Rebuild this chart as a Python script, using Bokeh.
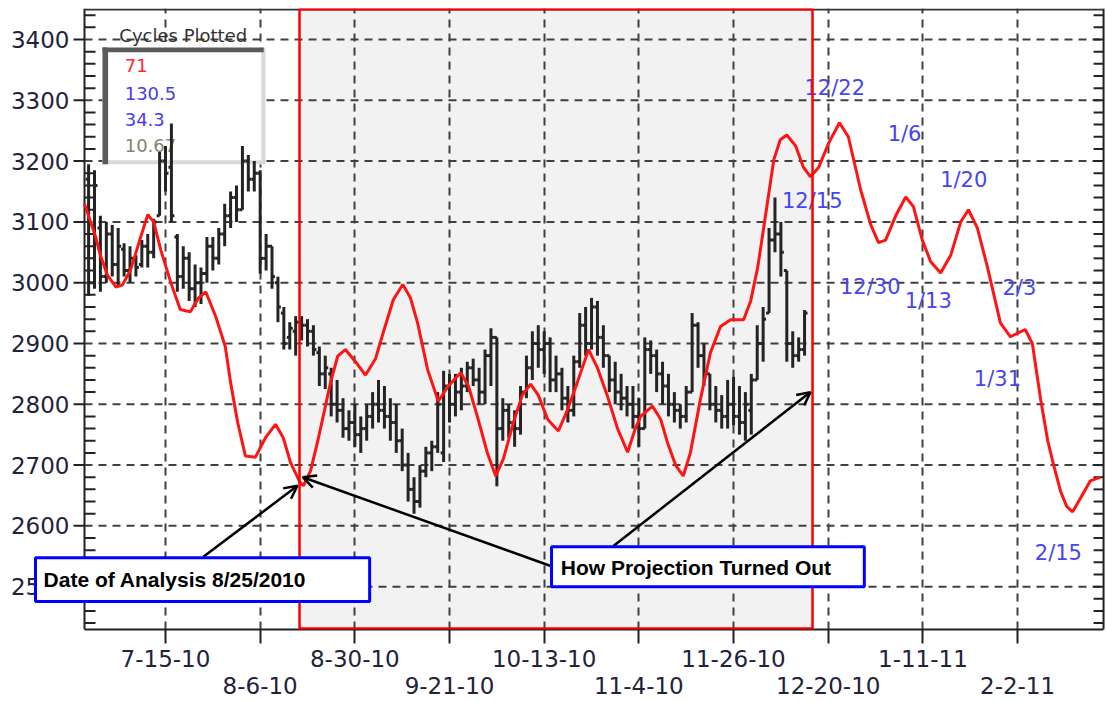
from bokeh.plotting import figure
from bokeh.models import Range1d, FixedTicker, BoxAnnotation, Label, Arrow, OpenHead
from bokeh.core.properties import value
from bokeh.embed import file_html
from bokeh.resources import INLINE

# ---------------- data ----------------
# x = trading-day number (7-15-10 is day 14)
tick_days = [14, 30, 46, 62, 78, 94, 110, 126, 142, 158]
tick_labels = ["7-15-10", "8-6-10", "8-30-10", "9-21-10", "10-13-10",
               "11-4-10", "11-26-10", "12-20-10", "1-11-11", "2-2-11"]
y_ticks = [2500, 2600, 2700, 2800, 2900, 3000, 3100, 3200, 3300, 3400]
y_tick_labels = ["2500", "2600", "2700", "2800", "2900", "3000", "3100", "3200", "3300", "3400"]
y_minor_ticks = [v for v in range(2440, 3451, 20) if v % 100 != 0]
y_all_ticks = list(range(2440, 3451, 20))

bar_day = list(range(1, 123))
bar_high = [3195, 3185, 3110, 3100, 3095, 3090, 3065, 3060, 3045, 3070,
            3080, 3105, 3215, 3225, 3262, 3080, 3060, 3050, 3030, 3025,
            3075, 3075, 3090, 3130, 3150, 3160, 3225, 3210, 3200, 3185,
            3080, 3060, 3010, 2960, 2935, 2945, 2945, 2940, 2930, 2895,
            2880, 2860, 2840, 2810, 2790, 2800, 2780, 2800, 2820, 2840,
            2830, 2810, 2800, 2760, 2720, 2680, 2700, 2730, 2740, 2820,
            2855, 2850, 2850, 2860, 2870, 2875, 2860, 2890, 2925, 2910,
            2810, 2800, 2790, 2830, 2880, 2920, 2930, 2920, 2910, 2880,
            2860, 2830, 2880, 2950, 2960, 2975, 2970, 2930, 2880, 2870,
            2850, 2830, 2830, 2810, 2910, 2905, 2890, 2870, 2850, 2820,
            2800, 2830, 2950, 2935, 2900, 2850, 2830, 2815, 2840, 2845,
            2830, 2820, 2850, 2930, 2960, 3090, 3140, 3100, 3020, 2920,
            2910, 2955]
bar_low = [2978, 2990, 2985, 3000, 3010, 2995, 3010, 3000, 3010, 3025,
           3025, 3040, 3110, 3150, 3100, 2985, 2990, 2970, 2960, 2965,
           3000, 3020, 3030, 3060, 3090, 3100, 3120, 3150, 3150, 3015,
           3020, 2990, 2935, 2890, 2890, 2880, 2905, 2895, 2880, 2830,
           2825, 2780, 2770, 2745, 2740, 2730, 2720, 2740, 2760, 2770,
           2760, 2740, 2720, 2690, 2640, 2620, 2630, 2680, 2690, 2720,
           2705, 2770, 2780, 2790, 2820, 2830, 2800, 2800, 2830, 2665,
           2740, 2745, 2730, 2750, 2810, 2840, 2860, 2850, 2820, 2820,
           2790, 2770, 2780, 2860, 2880, 2890, 2880, 2860, 2820, 2800,
           2790, 2780, 2760, 2730, 2760, 2850, 2820, 2800, 2780, 2770,
           2760, 2770, 2820, 2860, 2830, 2790, 2770, 2760, 2760, 2765,
           2750, 2740, 2750, 2840, 2870, 2950, 3050, 3010, 2870, 2860,
           2870, 2880]
bar_open = [3170, 3000, 3090, 3010, 3080, 3030, 3055, 3020, 3040, 3030,
            3060, 3050, 3110, 3200, 3190, 3075, 3010, 3040, 2990, 3000,
            3015, 3060, 3040, 3080, 3110, 3140, 3120, 3200, 3170, 3180,
            3040, 3060, 3000, 2950, 2910, 2920, 2935, 2930, 2920, 2885,
            2850, 2850, 2800, 2790, 2760, 2770, 2750, 2760, 2780, 2800,
            2790, 2780, 2770, 2740, 2700, 2660, 2640, 2690, 2720, 2730,
            2720, 2830, 2800, 2820, 2830, 2860, 2840, 2820, 2880, 2910,
            2760, 2790, 2770, 2760, 2820, 2860, 2900, 2890, 2900, 2840,
            2850, 2810, 2790, 2870, 2930, 2900, 2960, 2910, 2880, 2840,
            2820, 2810, 2800, 2780, 2760, 2890, 2880, 2850, 2830, 2800,
            2790, 2780, 2820, 2930, 2880, 2850, 2800, 2790, 2780, 2800,
            2780, 2770, 2790, 2840, 2900, 2950, 3070, 3080, 3020, 2900,
            2880, 2890]
bar_close = [3000, 3160, 3010, 3080, 3030, 3060, 3020, 3040, 3025, 3060,
             3050, 3100, 3200, 3180, 3110, 3010, 3040, 2990, 3000, 3015,
             3060, 3040, 3080, 3110, 3140, 3120, 3200, 3170, 3180, 3040,
             3060, 3010, 2960, 2900, 2925, 2935, 2930, 2920, 2890, 2850,
             2860, 2800, 2790, 2760, 2770, 2750, 2760, 2780, 2800, 2790,
             2780, 2770, 2740, 2700, 2660, 2640, 2690, 2720, 2730, 2800,
             2830, 2800, 2820, 2830, 2860, 2840, 2820, 2880, 2910, 2760,
             2790, 2770, 2760, 2820, 2860, 2900, 2890, 2900, 2840, 2850,
             2810, 2790, 2870, 2930, 2900, 2960, 2910, 2880, 2840, 2820,
             2810, 2800, 2780, 2760, 2890, 2880, 2850, 2830, 2800, 2790,
             2780, 2820, 2930, 2880, 2850, 2800, 2790, 2780, 2800, 2780,
             2770, 2800, 2840, 2900, 2940, 3070, 3080, 3050, 2900, 2880,
             2890, 2950]

proj_day = [0.3, 2.2, 3.0, 4.2, 5.6, 6.7, 8.1, 9.8, 11.0, 12.0,
            13.2, 14.9, 16.5, 18.2, 19.6, 20.8, 22.5, 24.1, 25.0, 26.2,
            27.5, 29.2, 30.9, 32.6, 33.9, 35.1, 36.7, 37.3, 38.5, 39.7,
            41.9, 43.1, 44.4, 46.1, 47.8, 49.5, 50.8, 52.5, 54.1, 55.4,
            56.6, 58.3, 60.1, 61.8, 63.9, 65.2, 66.7, 68.4, 69.8, 71.1,
            72.8, 74.3, 75.7, 77.0, 78.6, 80.4, 81.9, 83.6, 85.5, 87.0,
            88.7, 90.4, 92.1, 93.4, 94.3, 96.3, 97.7, 98.8, 100.2, 101.5,
            102.7, 104.4, 106.1, 107.8, 109.5, 111.7, 112.9, 114.1, 115.4, 116.8,
            117.9, 119.0, 120.5, 121.8, 123.0, 124.4, 126.1, 127.9, 129.4, 131.5,
            133.2, 134.5, 135.7, 137.4, 139.1, 140.4, 141.9, 143.3, 145.0, 146.7,
            148.4, 149.7, 151.2, 152.9, 155.1, 156.8, 158.2, 159.3, 160.5, 161.9,
            163.1, 164.1, 165.3, 166.3, 167.3, 168.6, 170.3, 172.0]
proj_value = [3130, 3075, 3045, 3012, 2993, 2996, 3021, 3075, 3112, 3100,
              3054, 3000, 2956, 2952, 2975, 2985, 2944, 2895, 2836, 2770,
              2715, 2713, 2745, 2767, 2745, 2705, 2672, 2666, 2690, 2738,
              2836, 2879, 2890, 2870, 2848, 2875, 2918, 2972, 2997, 2975,
              2934, 2857, 2805, 2830, 2852, 2830, 2780, 2720, 2682, 2710,
              2770, 2815, 2833, 2815, 2775, 2756, 2790, 2836, 2890, 2860,
              2813, 2760, 2721, 2760, 2780, 2797, 2775, 2738, 2700, 2682,
              2720, 2808, 2885, 2928, 2939, 2939, 2970, 3026, 3110, 3202,
              3235, 3243, 3225, 3190, 3174, 3190, 3230, 3263, 3240, 3152,
              3095, 3066, 3070, 3110, 3141, 3125, 3070, 3035, 3016, 3045,
              3100, 3120, 3090, 3026, 2934, 2911, 2918, 2923, 2900, 2808,
              2740, 2700, 2656, 2632, 2623, 2645, 2674, 2680]

cycle_labels = ["71", "130.5", "34.3", "10.67"]
cycle_colors = ["#ff2a2a", "#4a3ce6", "#4a3ce6", "#85856a"]
cycle_label_y = [3357, 3312, 3269, 3225]

date_labels = ["12/22", "12/15", "1/6", "12/30", "1/13", "1/20", "2/3", "1/31", "2/15"]
date_label_day = [127.1, 123.3, 138.9, 133.1, 142.9, 148.9, 158.3, 154.6, 164.9]
date_label_value = [3320, 3134, 3244, 2993, 2970, 3169, 2992, 2841, 2556]

analysis_start, analysis_end = 36.65, 123.35

# ---------------- geometry of the plot area ----------------
X0, X1 = -13.886, 173.03          # visible day range (whole canvas width)
Y0, Y1 = 2429.5, 3451             # visible value range
AX_L, AX_R = 0.31, 172.53         # left / right axis positions (days)
TICK = 1.86                       # 11 px in days
RTICK = 1.69                      # 10 px in days

p = figure(width=1106, height=702, output_backend="svg", toolbar_location=None,
           x_range=Range1d(X0, X1), y_range=Range1d(Y0, Y1),
           y_axis_location=None,
           min_border_left=0, min_border_right=0, min_border_top=8, min_border_bottom=71)
p.background_fill_color = "white"
p.border_fill_color = "white"
p.outline_line_color = None

label_color = "#22223a"
axis_color = "#222222"

# x axis (real, below)
xa = p.xaxis[0]
xa.ticker = FixedTicker(ticks=tick_days)
xa.bounds = (AX_L, AX_R)
xa.major_label_overrides = {d: (lab if k % 2 == 0 else "\n" + lab)
                            for k, (d, lab) in enumerate(zip(tick_days, tick_labels))}
xa.major_label_text_font = "DejaVu Sans"
xa.major_label_text_font_size = "23px"
xa.major_label_text_color = label_color
xa.major_label_text_line_height = 1.06
xa.major_label_standoff = 2
xa.axis_line_color = axis_color
xa.axis_line_width = 2
xa.major_tick_line_color = axis_color
xa.major_tick_line_width = 2
xa.major_tick_out = 14
xa.major_tick_in = 0
xa.minor_tick_line_color = None

for g in p.xgrid:
    g.grid_line_color = "#404040"
    g.grid_line_width = 2
    g.grid_line_dash = "8 6"
for g in p.ygrid:
    g.visible = False

# shaded analysis period (below everything)
p.add_layout(BoxAnnotation(left=analysis_start, right=analysis_end,
                           fill_color="#f2f2f2", fill_alpha=1, line_color=None,
                           level="image"))

# horizontal grid lines (from left axis to right axis)
p.segment(x0=[AX_L] * len(y_ticks), y0=y_ticks, x1=[AX_R] * len(y_ticks), y1=y_ticks,
          line_color="#404040", line_width=2, line_dash="8 6")

# legend box "Cycles Plotted"
p.quad(left=[3.35], right=[30.9], top=[3387], bottom=[3195], fill_color="white", line_color=None)
p.quad(left=[30.2, 3.35], right=[30.9, 30.9], top=[3387, 3201.5], bottom=[3195, 3195],
       fill_color="#d9d9d9", line_color=None)
p.quad(left=[3.35, 3.35], right=[4.3, 30.6], top=[3387, 3387], bottom=[3195, 3379],
       fill_color="#5a5a5a", line_color=None)
p.text(x=[17.0], y=[3407.4], text=["Cycles Plotted"], text_align="center",
       text_baseline="middle", text_font=value("DejaVu Sans"),
       text_font_size=value("18px"), text_color="#333333")
p.text(x=[7.1] * len(cycle_labels), y=cycle_label_y, text=cycle_labels,
       text_align="left", text_baseline="middle", text_font=value("DejaVu Sans"),
       text_font_size=value("18px"), text_color=cycle_colors)

# projected date labels
p.text(x=date_label_day, y=date_label_value, text=date_labels, text_align="center",
       text_baseline="middle", text_font=value("DejaVu Sans"),
       text_font_size=value("21px"), text_color="#4646f0")

# left axis (drawn by hand so that the canvas left of it stays usable)
p.segment(x0=[AX_L], y0=[Y0], x1=[AX_L], y1=[Y1], line_color=axis_color, line_width=2)
p.segment(x0=[AX_L - TICK] * len(y_ticks), y0=y_ticks, x1=[AX_L] * len(y_ticks), y1=y_ticks,
          line_color=axis_color, line_width=2)
p.segment(x0=[AX_L] * len(y_minor_ticks), y0=y_minor_ticks,
          x1=[AX_L + TICK] * len(y_minor_ticks), y1=y_minor_ticks,
          line_color=axis_color, line_width=2)
p.text(x=[AX_L - 2.55] * len(y_ticks), y=y_ticks, text=y_tick_labels, text_align="right",
       text_baseline="middle", text_font=value("DejaVu Sans"),
       text_font_size=value("23px"), text_color=label_color)

# right axis and top border
p.segment(x0=[AX_R], y0=[Y0], x1=[AX_R], y1=[Y1], line_color=axis_color, line_width=2)
p.segment(x0=[AX_R - RTICK] * len(y_all_ticks), y0=y_all_ticks,
          x1=[AX_R] * len(y_all_ticks), y1=y_all_ticks, line_color=axis_color, line_width=2)
p.segment(x0=[AX_L], y0=[Y1 - 1.6], x1=[AX_R], y1=[Y1 - 1.6], line_color="#333333", line_width=2)

# OHLC bars
bar_color = "#242424"
p.segment(x0=bar_day, y0=bar_low, x1=bar_day, y1=bar_high, line_color=bar_color, line_width=3)
p.segment(x0=[d - 0.5 for d in bar_day], y0=bar_open, x1=bar_day, y1=bar_open,
          line_color=bar_color, line_width=3)
p.segment(x0=bar_day, y0=bar_close, x1=[d + 0.5 for d in bar_day], y1=bar_close,
          line_color=bar_color, line_width=3)

# projection line
p.line(proj_day, proj_value, line_color="#ff1414", line_width=3)

# analysis period outline
p.add_layout(BoxAnnotation(left=analysis_start, right=analysis_end, top=Y1 - 1.2, bottom=Y0 + 1.6,
                           fill_color=None, fill_alpha=0, line_color="#ff0000",
                           line_alpha=1, line_width=2.5))

# arrows
head = dict(line_color="black", line_width=2.5, size=13)
p.add_layout(Arrow(end=OpenHead(**head), x_start=20.4, y_start=2549, x_end=36.3, y_end=2666,
                   line_color="black", line_width=2.5))
p.add_layout(Arrow(end=OpenHead(**head), x_start=79.1, y_start=2534, x_end=37.2, y_end=2680,
                   line_color="black", line_width=2.5))
p.add_layout(Arrow(end=OpenHead(**head), x_start=89.7, y_start=2567, x_end=123.0, y_end=2820,
                   line_color="black", line_width=2.5))

# text boxes
p.add_layout(BoxAnnotation(left=-7.97, right=48.5, top=2547.5, bottom=2475.4,
                           fill_color="white", fill_alpha=1,
                           line_color="#0000ff", line_alpha=1, line_width=3))
p.add_layout(Label(x=-6.6, y=2511.5, text="Date of Analysis  8/25/2010",
                   text_align="left", text_baseline="middle",
                   text_font="Liberation Sans", text_font_style="bold",
                   text_font_size="21px", text_color="black"))
p.add_layout(BoxAnnotation(left=79.24, right=132.1, top=2565.6, bottom=2500,
                           fill_color="white", fill_alpha=1,
                           line_color="#0000ff", line_alpha=1, line_width=3))
p.add_layout(Label(x=80.8, y=2532, text="How Projection Turned Out",
                   text_align="left", text_baseline="middle",
                   text_font="Liberation Sans", text_font_style="bold",
                   text_font_size="21px", text_color="black"))

open("out.html", "w").write(file_html(p, INLINE))
